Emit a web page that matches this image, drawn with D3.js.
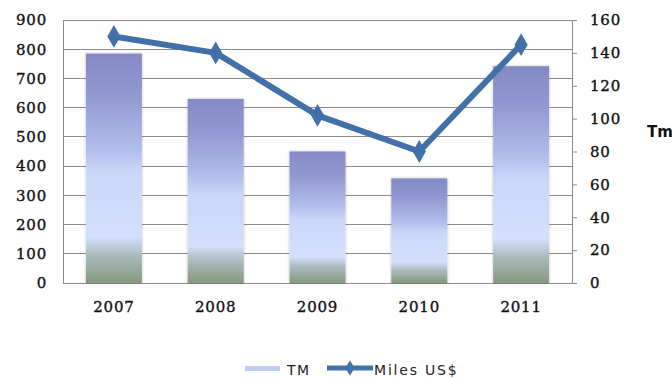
<!DOCTYPE html>
<html><head><meta charset="utf-8">
<script src="https://cdn.jsdelivr.net/npm/d3@7"></script>
<style>body{margin:0;background:#fff}svg{display:block}</style>
</head><body>
<svg id="c" width="672" height="378"></svg>
<script>
const years = ["2007","2008","2009","2010","2011"];
const tmValues = [785, 630, 450, 358, 742];
const milesValues = [150, 140, 102, 80, 145];
const leftTicks = [0,100,200,300,400,500,600,700,800,900];
const rightTicks = [0,20,40,60,80,100,120,140,160];
const seriesNames = ["TM", "Miles US$"];
const rightTitle = "Tm";

const svg = d3.select("#c");
const m = {l:63, r:572, t:20, b:283};
const x = d3.scaleBand().domain(years).range([m.l, m.r]).paddingInner(0.45).paddingOuter(0.225);
const yL = d3.scaleLinear().domain([0,900]).range([m.b, m.t]);
const yR = d3.scaleLinear().domain([0,160]).range([m.b, m.t]);

const numFont = "DejaVu Serif, serif";
function styleNum(sel){
  sel.attr("font-family",numFont).attr("font-size",15).attr("fill","#111")
     .attr("stroke","#111").attr("stroke-width",0.35).attr("letter-spacing",0.8);
}

const defs = svg.append("defs");
const g = defs.append("linearGradient").attr("id","bg").attr("x1",0).attr("y1",0).attr("x2",0).attr("y2",1);
[[0,"#8589c5"],[0.18,"#9298d0"],[0.42,"#b2beec"],[0.52,"#cbd7f9"],[0.8,"#d3dffc"],[0.88,"#abbabd"],[1,"#86997f"]]
  .forEach(([o,c])=>g.append("stop").attr("offset",o).attr("stop-color",c));
const f = defs.append("filter").attr("id","sh").attr("x","-20%").attr("y","-10%").attr("width","140%").attr("height","120%");
f.append("feGaussianBlur").attr("in","SourceAlpha").attr("stdDeviation",1.5).attr("result","b");
f.append("feComponentTransfer").attr("in","b").attr("result","t").append("feFuncA").attr("type","linear").attr("slope",0.25);
const mg = f.append("feMerge"); mg.append("feMergeNode").attr("in","t"); mg.append("feMergeNode").attr("in","SourceGraphic");

// gridlines
svg.append("g").selectAll("line").data(leftTicks).join("line")
  .attr("x1",m.l).attr("x2",m.r).attr("y1",d=>yL(d)).attr("y2",d=>yL(d))
  .attr("stroke","#8c8c8c").attr("stroke-width",1).attr("shape-rendering","crispEdges");

// left axis
const ax = svg.append("g").attr("transform",`translate(${m.l},0)`)
  .call(d3.axisLeft(yL).tickValues(leftTicks).tickSize(0).tickPadding(16));
ax.select(".domain").attr("stroke","#8c8c8c");
styleNum(ax.selectAll("text"));

// right axis
const ar = svg.append("g").attr("transform",`translate(${m.r},0)`)
  .call(d3.axisRight(yR).tickValues(rightTicks).tickSize(5).tickPadding(13));
ar.select(".domain").attr("stroke","#8c8c8c");
ar.selectAll(".tick line").attr("stroke","#8c8c8c");
styleNum(ar.selectAll("text"));

// bars
svg.append("g").selectAll("rect").data(years).join("rect")
  .attr("x",d=>x(d)).attr("width",x.bandwidth())
  .attr("y",(d,i)=>yL(tmValues[i])).attr("height",(d,i)=>yL(0)-yL(tmValues[i]))
  .attr("fill","url(#bg)").attr("filter","url(#sh)");

// x labels
const axb = svg.append("g").attr("transform",`translate(0,${m.b})`)
  .call(d3.axisBottom(x).tickSize(0).tickPadding(18));
axb.select(".domain").remove();
styleNum(axb.selectAll("text"));

// line
const lineColor = "#4270a8";
const line = d3.line().x((d,i)=>x(years[i])+x.bandwidth()/2).y(d=>yR(d));
svg.append("path").datum(milesValues).attr("d",line).attr("fill","none")
  .attr("stroke",lineColor).attr("stroke-width",6).attr("stroke-linejoin","round");
const diamond = d3.symbol().type(d3.symbolDiamond).size(150);
svg.append("g").selectAll("path").data(milesValues).join("path")
  .attr("d",diamond).attr("transform",(d,i)=>`translate(${x(years[i])+x.bandwidth()/2},${yR(d)})`)
  .attr("fill",lineColor);

// right title
svg.append("text").attr("x",647).attr("y",137).text(rightTitle)
  .attr("font-family","DejaVu Sans, sans-serif").attr("font-weight","bold").attr("font-size",15).attr("fill","#111");

// legend
const lg = svg.append("g");
const legFont = "DejaVu Sans, sans-serif";
lg.append("rect").attr("x",245).attr("y",366).attr("width",35).attr("height",5).attr("fill","#c3ccf0");
lg.append("text").attr("x",287).attr("y",375).text(seriesNames[0])
  .attr("font-family",legFont).attr("font-size",14).attr("letter-spacing",1.5).attr("fill","#222");
lg.append("line").attr("x1",327).attr("x2",373).attr("y1",368).attr("y2",368).attr("stroke",lineColor).attr("stroke-width",5);
lg.append("path").attr("d",d3.symbol().type(d3.symbolDiamond).size(70)).attr("transform","translate(350,368)").attr("fill",lineColor);
lg.append("text").attr("x",374).attr("y",375).text(seriesNames[1])
  .attr("font-family",legFont).attr("font-size",14).attr("letter-spacing",1.8).attr("fill","#222");
</script>
</body></html>
